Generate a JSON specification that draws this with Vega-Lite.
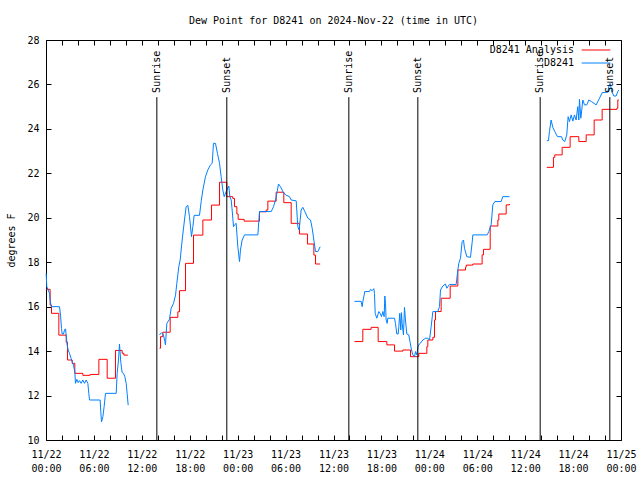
{
"$schema": "https://vega.github.io/schema/vega-lite/v6.json",
"width": 575, "height": 400,
"autosize": {"type": "none"},
"padding": {"left": 46, "top": 40, "right": 19, "bottom": 40},
"background": "white",
"title": {"text": "Dew Point for D8241 on 2024-Nov-22 (time in UTC)", "font": "DejaVu Sans Mono", "fontSize": 10, "fontWeight": "normal", "color": "black", "anchor": "middle", "frame": "group", "baseline": "alphabetic", "offset": 1},
"datasets": {
"analysis": [
{"series":"D8241 Analysis","seg":1,"h":0,"v":16.78},{"series":"D8241 Analysis","seg":1,"h":0.52,"v":16.07},{"series":"D8241 Analysis","seg":1,"h":0.69,"v":15.7},{"series":"D8241 Analysis","seg":1,"h":1.61,"v":14.72},{"series":"D8241 Analysis","seg":1,"h":2.53,"v":14.4},{"series":"D8241 Analysis","seg":1,"h":2.69,"v":13.6},{"series":"D8241 Analysis","seg":1,"h":3.28,"v":13.45},{"series":"D8241 Analysis","seg":1,"h":3.61,"v":13.0},{"series":"D8241 Analysis","seg":1,"h":4.61,"v":12.91},{"series":"D8241 Analysis","seg":1,"h":5.53,"v":12.95},{"series":"D8241 Analysis","seg":1,"h":6.62,"v":13.63},{"series":"D8241 Analysis","seg":1,"h":7.66,"v":12.78},{"series":"D8241 Analysis","seg":1,"h":8.7,"v":14.03},{"series":"D8241 Analysis","seg":1,"h":9.54,"v":13.9},{"series":"D8241 Analysis","seg":1,"h":9.75,"v":13.82},{"series":"D8241 Analysis","seg":1,"h":10.25,"v":13.82},
{"series":"D8241 Analysis","seg":2,"h":14.21,"v":14.13},{"series":"D8241 Analysis","seg":2,"h":14.34,"v":14.65},{"series":"D8241 Analysis","seg":2,"h":14.63,"v":14.85},{"series":"D8241 Analysis","seg":2,"h":15.55,"v":15.52},{"series":"D8241 Analysis","seg":2,"h":16.51,"v":15.77},{"series":"D8241 Analysis","seg":2,"h":16.72,"v":16.72},{"series":"D8241 Analysis","seg":2,"h":17.47,"v":17.95},{"series":"D8241 Analysis","seg":2,"h":18.47,"v":19.22},{"series":"D8241 Analysis","seg":2,"h":19.64,"v":19.9},{"series":"D8241 Analysis","seg":2,"h":20.72,"v":20.57},{"series":"D8241 Analysis","seg":2,"h":21.73,"v":21.6},{"series":"D8241 Analysis","seg":2,"h":22.64,"v":20.95},{"series":"D8241 Analysis","seg":2,"h":23.39,"v":20.87},{"series":"D8241 Analysis","seg":2,"h":23.6,"v":20.5},{"series":"D8241 Analysis","seg":2,"h":23.9,"v":20.17},{"series":"D8241 Analysis","seg":2,"h":24.06,"v":19.93},{"series":"D8241 Analysis","seg":2,"h":24.81,"v":19.85},{"series":"D8241 Analysis","seg":2,"h":26.73,"v":20.27},{"series":"D8241 Analysis","seg":2,"h":27.57,"v":20.35},{"series":"D8241 Analysis","seg":2,"h":27.78,"v":20.75},{"series":"D8241 Analysis","seg":2,"h":28.82,"v":21.15},{"series":"D8241 Analysis","seg":2,"h":29.78,"v":20.68},{"series":"D8241 Analysis","seg":2,"h":30.7,"v":19.75},{"series":"D8241 Analysis","seg":2,"h":31.74,"v":19.27},{"series":"D8241 Analysis","seg":2,"h":32.74,"v":18.82},{"series":"D8241 Analysis","seg":2,"h":33.54,"v":18.32},{"series":"D8241 Analysis","seg":2,"h":33.75,"v":17.92},{"series":"D8241 Analysis","seg":2,"h":34.33,"v":17.92},
{"series":"D8241 Analysis","seg":3,"h":38.63,"v":14.43},{"series":"D8241 Analysis","seg":3,"h":39.67,"v":14.98},{"series":"D8241 Analysis","seg":3,"h":40.71,"v":15.07},{"series":"D8241 Analysis","seg":3,"h":41.59,"v":14.43},{"series":"D8241 Analysis","seg":3,"h":42.68,"v":14.28},{"series":"D8241 Analysis","seg":3,"h":43.64,"v":14.0},{"series":"D8241 Analysis","seg":3,"h":44.68,"v":14.05},{"series":"D8241 Analysis","seg":3,"h":45.64,"v":13.75},{"series":"D8241 Analysis","seg":3,"h":46.68,"v":13.9},{"series":"D8241 Analysis","seg":3,"h":47.69,"v":14.2},{"series":"D8241 Analysis","seg":3,"h":47.81,"v":14.5},{"series":"D8241 Analysis","seg":3,"h":48.44,"v":14.62},{"series":"D8241 Analysis","seg":3,"h":48.65,"v":15.4},{"series":"D8241 Analysis","seg":3,"h":48.77,"v":15.78},{"series":"D8241 Analysis","seg":3,"h":49.48,"v":16.38},{"series":"D8241 Analysis","seg":3,"h":50.61,"v":16.93},{"series":"D8241 Analysis","seg":3,"h":51.57,"v":17.65},{"series":"D8241 Analysis","seg":3,"h":52.53,"v":17.77},{"series":"D8241 Analysis","seg":3,"h":52.61,"v":17.87},{"series":"D8241 Analysis","seg":3,"h":53.45,"v":17.92},{"series":"D8241 Analysis","seg":3,"h":54.61,"v":18.33},{"series":"D8241 Analysis","seg":3,"h":54.78,"v":18.58},{"series":"D8241 Analysis","seg":3,"h":55.62,"v":19.63},{"series":"D8241 Analysis","seg":3,"h":56.58,"v":19.9},{"series":"D8241 Analysis","seg":3,"h":56.7,"v":20.17},{"series":"D8241 Analysis","seg":3,"h":57.62,"v":20.58},{"series":"D8241 Analysis","seg":3,"h":58.04,"v":20.62},
{"series":"D8241 Analysis","seg":4,"h":62.71,"v":22.27},{"series":"D8241 Analysis","seg":4,"h":63.54,"v":22.72},{"series":"D8241 Analysis","seg":4,"h":63.71,"v":22.83},{"series":"D8241 Analysis","seg":4,"h":64.63,"v":23.17},{"series":"D8241 Analysis","seg":4,"h":65.63,"v":23.65},{"series":"D8241 Analysis","seg":4,"h":66.72,"v":23.43},{"series":"D8241 Analysis","seg":4,"h":67.64,"v":23.73},{"series":"D8241 Analysis","seg":4,"h":68.64,"v":24.4},{"series":"D8241 Analysis","seg":4,"h":69.64,"v":24.88},{"series":"D8241 Analysis","seg":4,"h":71.48,"v":24.93},{"series":"D8241 Analysis","seg":4,"h":71.6,"v":25.3},{"series":"D8241 Analysis","seg":4,"h":71.73,"v":25.3}
],
"station": [
{"series":"D8241","seg":1,"h":0.02,"v":17.5},{"series":"D8241","seg":1,"h":0.1,"v":16.9},{"series":"D8241","seg":1,"h":0.27,"v":16.75},{"series":"D8241","seg":1,"h":0.44,"v":16.6},{"series":"D8241","seg":1,"h":0.52,"v":16.3},{"series":"D8241","seg":1,"h":0.65,"v":16.0},{"series":"D8241","seg":1,"h":1.69,"v":16.0},{"series":"D8241","seg":1,"h":1.82,"v":15.62},{"series":"D8241","seg":1,"h":1.94,"v":15.02},{"series":"D8241","seg":1,"h":2.02,"v":14.77},{"series":"D8241","seg":1,"h":2.19,"v":14.77},{"series":"D8241","seg":1,"h":2.32,"v":14.95},{"series":"D8241","seg":1,"h":2.44,"v":15.0},{"series":"D8241","seg":1,"h":2.53,"v":14.72},{"series":"D8241","seg":1,"h":2.65,"v":14.27},{"series":"D8241","seg":1,"h":2.78,"v":14.05},{"series":"D8241","seg":1,"h":2.94,"v":13.9},{"series":"D8241","seg":1,"h":3.15,"v":13.67},{"series":"D8241","seg":1,"h":3.28,"v":13.52},{"series":"D8241","seg":1,"h":3.44,"v":13.37},{"series":"D8241","seg":1,"h":3.61,"v":13.07},{"series":"D8241","seg":1,"h":3.69,"v":12.55},{"series":"D8241","seg":1,"h":3.86,"v":12.73},{"series":"D8241","seg":1,"h":4.03,"v":12.58},{"series":"D8241","seg":1,"h":4.2,"v":12.67},{"series":"D8241","seg":1,"h":4.4,"v":12.55},{"series":"D8241","seg":1,"h":4.61,"v":12.7},{"series":"D8241","seg":1,"h":4.82,"v":12.55},{"series":"D8241","seg":1,"h":5.03,"v":12.7},{"series":"D8241","seg":1,"h":5.24,"v":12.55},{"series":"D8241","seg":1,"h":5.36,"v":12.1},{"series":"D8241","seg":1,"h":5.45,"v":11.8},{"series":"D8241","seg":1,"h":6.78,"v":11.8},{"series":"D8241","seg":1,"h":6.86,"v":11.27},{"series":"D8241","seg":1,"h":6.95,"v":10.82},{"series":"D8241","seg":1,"h":7.12,"v":11.05},{"series":"D8241","seg":1,"h":7.28,"v":11.5},{"series":"D8241","seg":1,"h":7.45,"v":12.1},{"series":"D8241","seg":1,"h":8.79,"v":12.1},{"series":"D8241","seg":1,"h":8.91,"v":13.0},{"series":"D8241","seg":1,"h":9.08,"v":13.6},{"series":"D8241","seg":1,"h":9.2,"v":14.32},{"series":"D8241","seg":1,"h":9.37,"v":13.48},{"series":"D8241","seg":1,"h":9.54,"v":13.03},{"series":"D8241","seg":1,"h":9.71,"v":13.0},{"series":"D8241","seg":1,"h":9.87,"v":12.85},{"series":"D8241","seg":1,"h":10.04,"v":12.55},{"series":"D8241","seg":1,"h":10.16,"v":12.1},{"series":"D8241","seg":1,"h":10.29,"v":11.57},
{"series":"D8241","seg":2,"h":14.21,"v":14.73},{"series":"D8241","seg":2,"h":14.46,"v":14.83},{"series":"D8241","seg":2,"h":14.71,"v":14.73},{"series":"D8241","seg":2,"h":14.88,"v":14.43},{"series":"D8241","seg":2,"h":14.96,"v":14.28},{"series":"D8241","seg":2,"h":15.13,"v":15.25},{"series":"D8241","seg":2,"h":15.46,"v":15.43},{"series":"D8241","seg":2,"h":15.67,"v":15.93},{"series":"D8241","seg":2,"h":15.97,"v":16.15},{"series":"D8241","seg":2,"h":16.22,"v":16.52},{"series":"D8241","seg":2,"h":16.38,"v":17.05},{"series":"D8241","seg":2,"h":16.63,"v":17.8},{"series":"D8241","seg":2,"h":16.8,"v":18.1},{"series":"D8241","seg":2,"h":17.05,"v":19.0},{"series":"D8241","seg":2,"h":17.34,"v":19.9},{"series":"D8241","seg":2,"h":17.55,"v":20.5},{"series":"D8241","seg":2,"h":17.76,"v":20.56},{"series":"D8241","seg":2,"h":17.97,"v":20.05},{"series":"D8241","seg":2,"h":18.22,"v":19.15},{"series":"D8241","seg":2,"h":18.39,"v":19.6},{"series":"D8241","seg":2,"h":18.55,"v":20.11},{"series":"D8241","seg":2,"h":19.22,"v":20.11},{"series":"D8241","seg":2,"h":19.43,"v":20.73},{"series":"D8241","seg":2,"h":19.64,"v":21.25},{"series":"D8241","seg":2,"h":19.97,"v":21.85},{"series":"D8241","seg":2,"h":20.26,"v":22.15},{"series":"D8241","seg":2,"h":20.6,"v":22.38},{"series":"D8241","seg":2,"h":20.81,"v":22.45},{"series":"D8241","seg":2,"h":20.97,"v":23.35},{"series":"D8241","seg":2,"h":21.22,"v":23.35},{"series":"D8241","seg":2,"h":21.47,"v":22.9},{"series":"D8241","seg":2,"h":21.73,"v":22.45},{"series":"D8241","seg":2,"h":21.93,"v":21.85},{"series":"D8241","seg":2,"h":22.14,"v":21.25},{"series":"D8241","seg":2,"h":22.31,"v":20.95},{"series":"D8241","seg":2,"h":22.56,"v":21.18},{"series":"D8241","seg":2,"h":22.89,"v":21.43},{"series":"D8241","seg":2,"h":23.02,"v":20.95},{"series":"D8241","seg":2,"h":23.19,"v":20.8},{"series":"D8241","seg":2,"h":23.31,"v":20.35},{"series":"D8241","seg":2,"h":23.48,"v":19.6},{"series":"D8241","seg":2,"h":23.65,"v":19.7},{"series":"D8241","seg":2,"h":23.81,"v":19.75},{"series":"D8241","seg":2,"h":24.02,"v":18.7},{"series":"D8241","seg":2,"h":24.23,"v":18.03},{"series":"D8241","seg":2,"h":24.35,"v":18.55},{"series":"D8241","seg":2,"h":24.56,"v":19.0},{"series":"D8241","seg":2,"h":24.86,"v":19.23},{"series":"D8241","seg":2,"h":26.53,"v":19.23},{"series":"D8241","seg":2,"h":26.73,"v":20.28},{"series":"D8241","seg":2,"h":28.2,"v":20.28},{"series":"D8241","seg":2,"h":28.49,"v":20.5},{"series":"D8241","seg":2,"h":28.74,"v":20.8},{"series":"D8241","seg":2,"h":28.95,"v":21.18},{"series":"D8241","seg":2,"h":29.11,"v":21.52},{"series":"D8241","seg":2,"h":29.36,"v":21.4},{"series":"D8241","seg":2,"h":29.66,"v":21.18},{"series":"D8241","seg":2,"h":29.99,"v":21.03},{"series":"D8241","seg":2,"h":30.49,"v":20.95},{"series":"D8241","seg":2,"h":30.7,"v":20.8},{"series":"D8241","seg":2,"h":31.33,"v":20.76},{"series":"D8241","seg":2,"h":31.53,"v":19.6},{"series":"D8241","seg":2,"h":31.7,"v":19.45},{"series":"D8241","seg":2,"h":31.95,"v":20.35},{"series":"D8241","seg":2,"h":32.16,"v":20.47},{"series":"D8241","seg":2,"h":32.41,"v":20.28},{"series":"D8241","seg":2,"h":32.79,"v":19.98},{"series":"D8241","seg":2,"h":33.12,"v":19.9},{"series":"D8241","seg":2,"h":33.33,"v":19.53},{"series":"D8241","seg":2,"h":33.54,"v":19.0},{"series":"D8241","seg":2,"h":33.75,"v":18.48},{"series":"D8241","seg":2,"h":34.04,"v":18.48},{"series":"D8241","seg":2,"h":34.33,"v":18.7},
{"series":"D8241","seg":3,"h":38.63,"v":16.24},{"series":"D8241","seg":3,"h":39.46,"v":16.24},{"series":"D8241","seg":3,"h":39.59,"v":16.0},{"series":"D8241","seg":3,"h":39.67,"v":16.22},{"series":"D8241","seg":3,"h":39.92,"v":16.68},{"series":"D8241","seg":3,"h":40.51,"v":16.68},{"series":"D8241","seg":3,"h":40.63,"v":16.78},{"series":"D8241","seg":3,"h":40.84,"v":16.72},{"series":"D8241","seg":3,"h":41.05,"v":16.81},{"series":"D8241","seg":3,"h":41.13,"v":16.6},{"series":"D8241","seg":3,"h":41.22,"v":15.7},{"series":"D8241","seg":3,"h":41.42,"v":15.48},{"series":"D8241","seg":3,"h":41.68,"v":15.78},{"series":"D8241","seg":3,"h":41.84,"v":15.7},{"series":"D8241","seg":3,"h":42.01,"v":15.55},{"series":"D8241","seg":3,"h":42.18,"v":15.78},{"series":"D8241","seg":3,"h":42.34,"v":15.55},{"series":"D8241","seg":3,"h":42.43,"v":16.48},{"series":"D8241","seg":3,"h":42.51,"v":16.15},{"series":"D8241","seg":3,"h":42.59,"v":15.4},{"series":"D8241","seg":3,"h":42.72,"v":15.25},{"series":"D8241","seg":3,"h":42.8,"v":15.48},{"series":"D8241","seg":3,"h":43.64,"v":15.48},{"series":"D8241","seg":3,"h":43.76,"v":15.25},{"series":"D8241","seg":3,"h":43.93,"v":14.77},{"series":"D8241","seg":3,"h":44.1,"v":14.77},{"series":"D8241","seg":3,"h":44.18,"v":15.1},{"series":"D8241","seg":3,"h":44.3,"v":15.7},{"series":"D8241","seg":3,"h":44.43,"v":14.95},{"series":"D8241","seg":3,"h":44.51,"v":15.73},{"series":"D8241","seg":3,"h":44.6,"v":15.25},{"series":"D8241","seg":3,"h":44.76,"v":14.73},{"series":"D8241","seg":3,"h":44.89,"v":15.97},{"series":"D8241","seg":3,"h":45.01,"v":15.4},{"series":"D8241","seg":3,"h":45.18,"v":14.77},{"series":"D8241","seg":3,"h":45.43,"v":14.73},{"series":"D8241","seg":3,"h":45.6,"v":14.38},{"series":"D8241","seg":3,"h":45.77,"v":14.05},{"series":"D8241","seg":3,"h":45.93,"v":13.83},{"series":"D8241","seg":3,"h":46.14,"v":13.75},{"series":"D8241","seg":3,"h":46.27,"v":13.98},{"series":"D8241","seg":3,"h":46.43,"v":13.83},{"series":"D8241","seg":3,"h":46.6,"v":14.23},{"series":"D8241","seg":3,"h":46.85,"v":14.35},{"series":"D8241","seg":3,"h":47.19,"v":14.5},{"series":"D8241","seg":3,"h":47.52,"v":14.58},{"series":"D8241","seg":3,"h":47.81,"v":14.58},{"series":"D8241","seg":3,"h":48.02,"v":14.5},{"series":"D8241","seg":3,"h":48.23,"v":15.1},{"series":"D8241","seg":3,"h":48.44,"v":15.78},{"series":"D8241","seg":3,"h":49.06,"v":15.78},{"series":"D8241","seg":3,"h":49.27,"v":16.0},{"series":"D8241","seg":3,"h":49.4,"v":16.75},{"series":"D8241","seg":3,"h":49.69,"v":16.93},{"series":"D8241","seg":3,"h":50.02,"v":17.02},{"series":"D8241","seg":3,"h":50.19,"v":16.83},{"series":"D8241","seg":3,"h":50.52,"v":17.0},{"series":"D8241","seg":3,"h":51.36,"v":17.0},{"series":"D8241","seg":3,"h":51.57,"v":17.65},{"series":"D8241","seg":3,"h":51.69,"v":17.95},{"series":"D8241","seg":3,"h":51.9,"v":18.18},{"series":"D8241","seg":3,"h":52.11,"v":18.93},{"series":"D8241","seg":3,"h":52.28,"v":19.0},{"series":"D8241","seg":3,"h":52.4,"v":18.63},{"series":"D8241","seg":3,"h":52.69,"v":18.25},{"series":"D8241","seg":3,"h":53.15,"v":18.22},{"series":"D8241","seg":3,"h":53.36,"v":18.88},{"series":"D8241","seg":3,"h":53.45,"v":19.23},{"series":"D8241","seg":3,"h":55.24,"v":19.23},{"series":"D8241","seg":3,"h":55.45,"v":19.38},{"series":"D8241","seg":3,"h":55.74,"v":19.68},{"series":"D8241","seg":3,"h":55.95,"v":20.58},{"series":"D8241","seg":3,"h":56.2,"v":20.73},{"series":"D8241","seg":3,"h":56.99,"v":20.73},{"series":"D8241","seg":3,"h":57.2,"v":20.95},{"series":"D8241","seg":3,"h":58.04,"v":20.95},
{"series":"D8241","seg":4,"h":62.71,"v":23.47},{"series":"D8241","seg":4,"h":62.92,"v":23.47},{"series":"D8241","seg":4,"h":63.04,"v":23.88},{"series":"D8241","seg":4,"h":63.25,"v":24.4},{"series":"D8241","seg":4,"h":63.46,"v":24.07},{"series":"D8241","seg":4,"h":63.71,"v":23.88},{"series":"D8241","seg":4,"h":64.05,"v":23.65},{"series":"D8241","seg":4,"h":64.55,"v":23.65},{"series":"D8241","seg":4,"h":64.71,"v":23.5},{"series":"D8241","seg":4,"h":64.96,"v":23.43},{"series":"D8241","seg":4,"h":65.21,"v":23.73},{"series":"D8241","seg":4,"h":65.38,"v":24.55},{"series":"D8241","seg":4,"h":65.55,"v":24.33},{"series":"D8241","seg":4,"h":65.76,"v":24.63},{"series":"D8241","seg":4,"h":65.97,"v":24.35},{"series":"D8241","seg":4,"h":66.17,"v":24.63},{"series":"D8241","seg":4,"h":66.38,"v":24.4},{"series":"D8241","seg":4,"h":66.59,"v":25.0},{"series":"D8241","seg":4,"h":66.72,"v":24.4},{"series":"D8241","seg":4,"h":66.8,"v":25.33},{"series":"D8241","seg":4,"h":66.97,"v":24.48},{"series":"D8241","seg":4,"h":67.22,"v":25.3},{"series":"D8241","seg":4,"h":67.43,"v":25.08},{"series":"D8241","seg":4,"h":67.72,"v":25.08},{"series":"D8241","seg":4,"h":67.97,"v":25.3},{"series":"D8241","seg":4,"h":68.3,"v":25.23},{"series":"D8241","seg":4,"h":68.89,"v":25.08},{"series":"D8241","seg":4,"h":69.31,"v":25.38},{"series":"D8241","seg":4,"h":69.64,"v":25.63},{"series":"D8241","seg":4,"h":70.35,"v":25.66},{"series":"D8241","seg":4,"h":70.47,"v":25.9},{"series":"D8241","seg":4,"h":70.64,"v":26.05},{"series":"D8241","seg":4,"h":70.85,"v":25.68},{"series":"D8241","seg":4,"h":71.1,"v":25.48},{"series":"D8241","seg":4,"h":71.39,"v":25.48},{"series":"D8241","seg":4,"h":71.6,"v":25.68},{"series":"D8241","seg":4,"h":71.73,"v":25.75}
],
"sun": [
{"h":13.88,"event":"Sunrise"},{"h":22.64,"event":"Sunset"},{"h":37.92,"event":"Sunrise"},{"h":46.56,"event":"Sunset"},{"h":61.88,"event":"Sunrise"},{"h":70.6,"event":"Sunset"}
]
},
"layer": [
{
"data": {"name": "analysis"},
"mark": {"type": "line", "interpolate": "step-after", "strokeWidth": 1},
"encoding": {
"x": {"field": "h", "type": "quantitative", "scale": {"domain": [0, 72], "nice": false, "zero": false},
"axis": {"orient": "bottom", "values": [0,2,4,6,8,10,12,14,16,18,20,22,24,26,28,30,32,34,36,38,40,42,44,46,48,50,52,54,56,58,60,62,64,66,68,70,72],
"labelExpr": "datum.value % 6 == 0 ? ['11/' + (22 + floor(datum.value / 24)), (datum.value % 24 < 10 ? '0' : '') + (datum.value % 24) + ':00'] : ''",
"labelLineHeight": 14, "labelBaseline": "top", "labelPadding": 14, "labelFlush": false, "labelOverlap": false, "labelBound": false, "title": null}},
"y": {"field": "v", "type": "quantitative", "scale": {"domain": [10, 28], "nice": false, "zero": false},
"axis": {"orient": "left", "values": [10,12,14,16,18,20,22,24,26,28], "labelPadding": 12, "title": "degrees F", "titleX": -35, "titleY": 200, "titleAngle": 270, "titleAlign": "center", "titleBaseline": "middle", "titleFont": "DejaVu Sans Mono", "titleFontSize": 10, "titleFontWeight": "normal", "titleColor": "black"}},
"color": {"field": "series", "type": "nominal", "scale": {"domain": ["D8241 Analysis", "D8241"], "range": ["#ff0000", "#0080ff"]},
"legend": {"orient": "none", "legendX": 543, "legendY": 3, "direction": "vertical", "title": null, "symbolType": "M-2.2,0H2.2", "symbolSize": 169, "symbolStrokeWidth": 1, "labelAlign": "right", "labelOffset": -29, "labelFont": "DejaVu Sans Mono", "labelFontSize": 10, "labelColor": "black", "padding": 0, "rowPadding": 1}},
"detail": {"field": "seg", "type": "nominal"}
}
},
{
"data": {"name": "station"},
"mark": {"type": "line", "strokeWidth": 1},
"encoding": {
"x": {"field": "h", "type": "quantitative", "axis": null},
"y": {"field": "v", "type": "quantitative", "axis": null},
"color": {"field": "series", "type": "nominal"},
"detail": {"field": "seg", "type": "nominal"}
}
},
{
"data": {"name": "sun"},
"mark": {"type": "rule", "color": "black", "strokeWidth": 1},
"encoding": {
"x": {"field": "h", "type": "quantitative", "axis": {"orient": "top", "values": [0,2,4,6,8,10,12,14,16,18,20,22,24,26,28,30,32,34,36,38,40,42,44,46,48,50,52,54,56,58,60,62,64,66,68,70,72], "labels": false, "title": null}},
"y": {"datum": 10, "type": "quantitative", "axis": {"orient": "right", "values": [10,12,14,16,18,20,22,24,26,28], "labels": false, "title": null}},
"y2": {"datum": 25.43}
}
},
{
"data": {"name": "sun"},
"mark": {"type": "text", "angle": 270, "align": "left", "baseline": "middle", "font": "DejaVu Sans Mono", "fontSize": 10, "color": "black"},
"encoding": {
"x": {"field": "h", "type": "quantitative", "axis": null},
"y": {"datum": 25.62, "type": "quantitative", "axis": null},
"text": {"field": "event"}
}
}
],
"resolve": {"axis": {"x": "independent", "y": "independent"}},
"config": {
"view": {"stroke": "black", "strokeWidth": 1},
"axis": {"domain": false, "grid": false, "ticks": true, "tickSize": -5, "tickColor": "black", "tickWidth": 1, "labelFont": "DejaVu Sans Mono", "labelFontSize": 10, "labelColor": "black"}
}
}
